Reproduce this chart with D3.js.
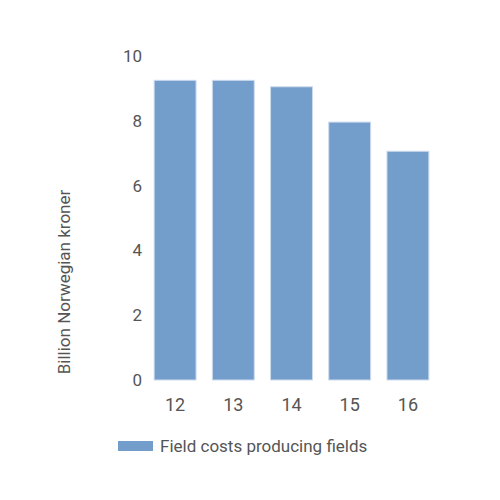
<!DOCTYPE html>
<html>
<head>
<meta charset="utf-8">
<script src="https://cdn.jsdelivr.net/npm/d3@7"></script>
<style>
  body { margin: 0; background: #fff; }
  svg { display: block; }
</style>
</head>
<body>
<div id="chart"></div>
<script>
const years = ["12", "13", "14", "15", "16"];
const fieldCosts = [9.25, 9.25, 9.05, 7.96, 7.06];
const yTicks = [0, 2, 4, 6, 8, 10];
const seriesName = "Field costs producing fields";
const yTitle = "Billion Norwegian kroner";

const width = 500, height = 500;
const margin = { top: 56, right: 63, bottom: 120, left: 146 };

const svg = d3.select("#chart").append("svg")
    .attr("width", width)
    .attr("height", height);

const x = d3.scaleBand()
    .domain(years)
    .range([margin.left, width - margin.right])
    .paddingInner(0.28)
    .paddingOuter(0.14);

const y = d3.scaleLinear()
    .domain([0, 10])
    .range([height - margin.bottom, margin.top]);

// bars
svg.append("g")
    .selectAll("rect")
    .data(fieldCosts)
    .join("rect")
    .attr("x", (d, i) => x(years[i]))
    .attr("y", d => y(d))
    .attr("width", x.bandwidth())
    .attr("height", d => y(0) - y(d))
    .attr("fill", "#739dcb")
    .attr("stroke", "#cddbee")
    .attr("stroke-width", 1);

// y axis labels
const yAxis = svg.append("g")
    .attr("transform", `translate(${margin.left - 4},0)`)
    .call(d3.axisLeft(y).tickValues(yTicks).tickSize(0).tickPadding(0));
yAxis.select(".domain").remove();
yAxis.selectAll("text")
    .attr("font-family", "Roboto, sans-serif")
    .attr("font-size", 17)
    .attr("fill", "#555");

// x axis labels
const xAxis = svg.append("g")
    .attr("transform", `translate(0,${y(0)})`)
    .call(d3.axisBottom(x).tickSize(0).tickPadding(18));
xAxis.select(".domain").remove();
xAxis.selectAll("text")
    .attr("font-family", "Roboto, sans-serif")
    .attr("font-size", 18)
    .attr("fill", "#555");

// y title
svg.append("text")
    .attr("transform", `translate(70,282) rotate(-90)`)
    .attr("text-anchor", "middle")
    .attr("font-family", "Roboto, sans-serif")
    .attr("font-size", 17)
    .attr("fill", "#555")
    .text(yTitle);

// legend
const legend = svg.append("g").attr("transform", "translate(118,441)");
legend.append("rect")
    .attr("width", 35)
    .attr("height", 10)
    .attr("fill", "#739dcb");
legend.append("text")
    .attr("x", 42)
    .attr("y", 11)
    .attr("font-family", "Roboto, sans-serif")
    .attr("font-size", 17)
    .attr("fill", "#555")
    .text(seriesName);
</script>
</body>
</html>
